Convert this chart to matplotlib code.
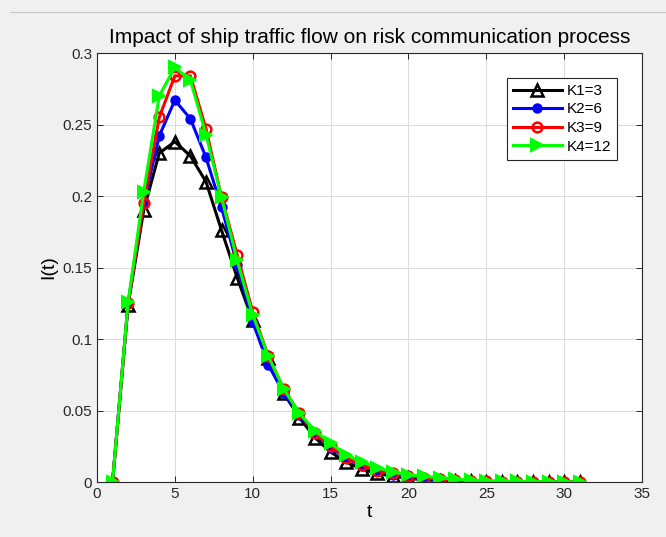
import numpy as np
import matplotlib
matplotlib.use("Agg")
import matplotlib.pyplot as plt
from matplotlib.lines import Line2D

# values, t = 1..31
t = np.arange(1, 32)
k1 = [0, 0.124, 0.190, 0.230, 0.238, 0.228, 0.210, 0.176, 0.143, 0.113,
      0.087, 0.062, 0.045, 0.031, 0.021, 0.014, 0.009, 0.006, 0.004, 0.0025,
      0.0015, 0.001, 0.0006, 0.0004, 0.0002, 0.0001, 0.0001, 0, 0, 0, 0]
k2 = [0, 0.125, 0.195, 0.242, 0.267, 0.254, 0.227, 0.192, 0.152, 0.112,
      0.082, 0.062, 0.047, 0.034, 0.024, 0.017, 0.011, 0.008, 0.005, 0.0035,
      0.0025, 0.0015, 0.001, 0.0006, 0.0004, 0.0002, 0.0001, 0.0001, 0, 0, 0]
k3 = [0, 0.125, 0.195, 0.255, 0.284, 0.284, 0.247, 0.199, 0.159, 0.119,
      0.088, 0.065, 0.048, 0.034, 0.025, 0.017, 0.012, 0.008, 0.006, 0.004,
      0.003, 0.002, 0.0013, 0.0008, 0.0005, 0.0003, 0.0002, 0.0001, 0.0001, 0, 0]
k4 = [0, 0.126, 0.203, 0.270, 0.290, 0.281, 0.243, 0.199, 0.155, 0.117,
      0.088, 0.065, 0.048, 0.036, 0.027, 0.019, 0.014, 0.010, 0.007, 0.005,
      0.004, 0.003, 0.002, 0.0013, 0.0009, 0.0006, 0.0004, 0.0003, 0.0002, 0.0001, 0.0001]
labels = ["K1=3", "K2=6", "K3=9", "K4=12"]

plt.rcParams['font.family'] = ['Liberation Sans', 'DejaVu Sans']

fig = plt.figure(figsize=(6.66, 5.37), dpi=100, facecolor='#f0f0f0')
ax = fig.add_axes([0.1456, 0.1024, 0.8184, 0.7989])
ax.set_facecolor('white')

# thin toolbar separator line at the top of the window
fig.add_artist(Line2D([0.015, 1.0], [0.978, 0.978], color='#c8c8c8', lw=0.8))

lw = 2.2
ax.plot(t, k1, color='black', lw=lw, marker='^', ms=8.5, mfc='none', mew=1.8, label=labels[0])
ax.plot(t, k2, color='blue', lw=lw, marker='o', ms=6, mfc='blue', mew=1.5, label=labels[1])
ax.plot(t, k3, color='red', lw=lw, marker='o', ms=7, mfc='none', mew=1.8, label=labels[2])
ax.plot(t, k4, color='#00ff00', lw=lw, marker='>', ms=9, mfc='#00ff00', mew=1.5, label=labels[3])

ax.set_xlim(0, 35)
ax.set_ylim(0, 0.3)
ax.set_xticks(np.arange(0, 36, 5))
ax.set_yticks([0, 0.05, 0.1, 0.15, 0.2, 0.25, 0.3])
ax.set_yticklabels(['0', '0.05', '0.1', '0.15', '0.2', '0.25', '0.3'])
ax.grid(True, color='#dcdcdc', lw=0.8)
ax.set_axisbelow(True)
ax.tick_params(direction='in', top=True, right=True, labelsize=11, colors='#262626',
               length=4, width=0.7)
for s in ax.spines.values():
    s.set_color('#262626')
    s.set_linewidth(0.8)

ax.set_title("Impact of ship traffic flow on risk communication process", fontsize=15, pad=7)
ax.set_xlabel("t", fontsize=14, labelpad=2)
ax.set_ylabel("I(t)", fontsize=14, labelpad=4)

leg = ax.legend(loc='upper right', bbox_to_anchor=(0.968, 0.96), fontsize=11,
                fancybox=False, framealpha=1, edgecolor='#262626', borderpad=0.4,
                handlelength=3.2, handletextpad=0.3, labelspacing=0.3)
leg.get_frame().set_linewidth(0.8)

fig.savefig("out.png", dpi=100, facecolor=fig.get_facecolor())
